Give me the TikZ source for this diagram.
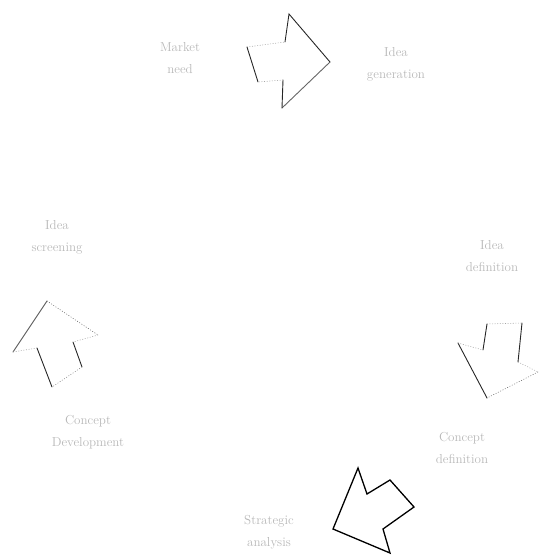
\documentclass[tikz,border=0pt]{standalone}
\begin{document}
\begin{tikzpicture}[x=1pt,y=-1pt,
  lbl/.style={text=black!28,font=\fontsize{13}{22}\selectfont,align=center,inner sep=0pt},
  darkedge/.style={draw=black!85,line width=0.9pt,line cap=round},
  lightedge/.style={draw=black!35,line width=0.6pt,dotted,line cap=round},
  boldarrow/.style={draw=black,line width=1.3pt,line join=miter}]
\useasboundingbox (0,0) rectangle (542,555);
% labels
\node[lbl] (need) at (180,58) {Market\\need};
\node[lbl] (gen) at (396,64) {Idea\\generation};
\node[lbl] (def) at (492,256) {Idea\\definition};
\node[lbl] (cdef) at (462,448) {Concept\\definition};
\node[lbl] (strat) at (269,532) {Strategic\\analysis};
\node[lbl] (cdev) at (88,432) {Concept\\Development};
\node[lbl] (screen) at (57,237) {Idea\\screening};
% top arrow (pointing right)
\draw[lightedge] (247,47) -- (285,42);
\draw[darkedge] (285,42) -- (289,14) -- (330,62);
\draw[darkedge,draw=black!60] (330,62) -- (282,108);
\draw[darkedge] (282,108) -- (283,80);
\draw[lightedge] (283,80) -- (258,82);
\draw[darkedge] (258,82) -- (247,47);
% right arrow (pointing down)
\draw[lightedge] (487,324) -- (522,323);
\draw[darkedge] (522,323) -- (518,362);
\draw[lightedge] (518,362) -- (538,372);
\draw[lightedge,draw=black!55] (538,372) -- (487,398);
\draw[darkedge] (487,398) -- (458,343);
\draw[lightedge] (458,343) -- (483,350);
\draw[darkedge] (483,350) -- (487,324);
% left arrow (pointing up)
\draw[darkedge,draw=black!65] (47,301) -- (13,352);
\draw[lightedge,draw=black!60] (47,301) -- (98,335);
\draw[lightedge] (98,335) -- (73,342);
\draw[darkedge] (73,342) -- (82,367);
\draw[lightedge,draw=black!50] (82,367) -- (52,387);
\draw[darkedge] (52,387) -- (37,348);
\draw[lightedge] (37,348) -- (13,352);
% bottom arrow (pointing down-left)
\draw[boldarrow] (358,468) -- (367,494) -- (390,480) -- (414,507) -- (383,529) -- (390,553) -- (333,529) -- cycle;
\end{tikzpicture}
\end{document}
